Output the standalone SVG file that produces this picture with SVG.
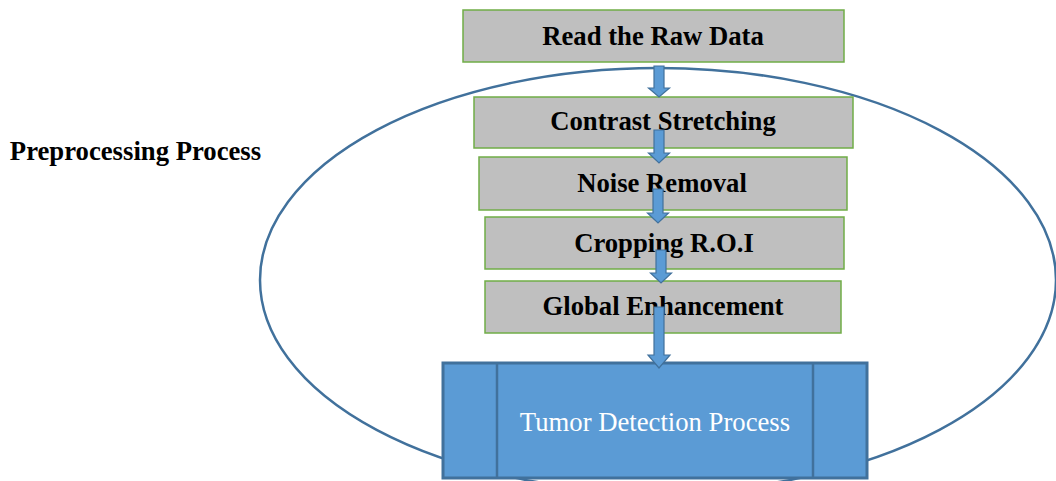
<svg xmlns="http://www.w3.org/2000/svg" width="1056" height="481" viewBox="0 0 1056 481">
<style>
.step{fill:#bfbfbf;stroke:#70ad47;stroke-width:1.5}
.lbl{font-family:"Liberation Serif","Times New Roman",serif;font-weight:bold;font-size:26.7px;fill:#000;text-anchor:middle}
.arr{fill:#5b9bd5;stroke:#41719c;stroke-width:1.2}
</style>
<rect width="1056" height="481" fill="#fff"/>
<g id="preprocessing-group">
<ellipse cx="658" cy="280" rx="398" ry="212" fill="none" stroke="#41719c" stroke-width="2.5"/>
<text x="135.5" y="160" class="lbl">Preprocessing Process</text>
</g>
<g id="read-raw-data"><rect class="step" x="463" y="10" width="381" height="52"/><text class="lbl" x="653" y="45">Read the Raw Data</text></g>
<g id="contrast-stretching"><rect class="step" x="474" y="97" width="379" height="51"/><text class="lbl" x="663" y="130">Contrast Stretching</text></g>
<g id="noise-removal"><rect class="step" x="479" y="157" width="368" height="53"/><text class="lbl" x="662" y="192">Noise Removal</text></g>
<g id="cropping-roi"><rect class="step" x="485" y="217" width="359" height="52"/><text class="lbl" x="664" y="252">Cropping R.O.I</text></g>
<g id="global-enhancement"><rect class="step" x="485" y="281" width="356" height="52"/><text class="lbl" x="663" y="315">Global Enhancement</text></g>
<g id="tumor-detection">
<rect x="443" y="363" width="424" height="115" fill="#5b9bd5" stroke="#41719c" stroke-width="3"/>
<line x1="497" y1="363" x2="497" y2="478" stroke="#41719c" stroke-width="2.5"/>
<line x1="813" y1="363" x2="813" y2="478" stroke="#41719c" stroke-width="2.5"/>
<text x="655" y="431" font-family="Liberation Serif,'Times New Roman',serif" font-size="26.7" fill="#fff" text-anchor="middle">Tumor Detection Process</text>
</g>
<g id="connectors">
<path class="arr" d="M654,66 H664 V88 H669.5 L659,97 L648.5,88 H654 Z"/>
<path class="arr" d="M654,130 H664 V153 H669.5 L659,163 L648.5,153 H654 Z"/>
<path class="arr" d="M653,189 H663 V213 H668.5 L658,223 L647.5,213 H653 Z"/>
<path class="arr" d="M656,250 H666 V273 H671.5 L661,283 L650.5,273 H656 Z"/>
<path class="arr" d="M654,307 H664 V355 H670 L659,368 L648,355 H654 Z"/>
</g>
</svg>
